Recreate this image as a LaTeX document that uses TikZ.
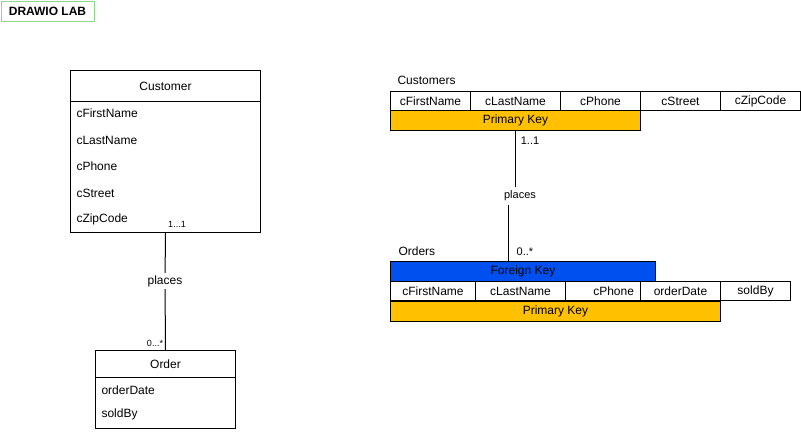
\documentclass[tikz,border=0pt]{standalone}
\usepackage{fontspec}
\setmainfont{Liberation Sans}
\usepackage{xcolor}
\usetikzlibrary{positioning}

\definecolor{labgreen}{HTML}{8ED68E}
\definecolor{pkyellow}{HTML}{FFC000}
\definecolor{fkblue}{HTML}{0050EF}

\tikzset{
  box/.style={draw, rectangle, inner sep=0pt, anchor=north west},
  cell/.style={box, minimum height=19pt},
  attr/.style={anchor=west, inner sep=0pt},
  card/.style={inner sep=0pt, font=\fontsize{9}{10}\selectfont},
  rel/.style={fill=white, inner sep=2pt},
}

\begin{document}
\begin{tikzpicture}[x=1pt, y=-1pt, line width=1pt,
    every node/.style={font=\fontsize{12}{14}\selectfont}]
    \useasboundingbox (0,0) rectangle (801,432);

    % Title
    \node[box, draw=labgreen, minimum width=93pt, minimum height=20pt,
          font=\fontsize{12}{14}\selectfont\bfseries] (lab) at (0.5,0.5) {DRAWIO LAB};

    % Class diagram: Customer
    \node[box, minimum width=190pt, minimum height=31pt] (customer) at (70,70) {Customer};
    \node[box, minimum width=190pt, minimum height=131pt] (custbody) at (70,101) {};
    \node[attr] (cfirst) at (76,113) {cFirstName};
    \node[attr] (clast)  at (76,140) {cLastName};
    \node[attr] (cphone) at (76,166) {cPhone};
    \node[attr] (cstreet) at (76,193) {cStreet};
    \node[attr] (czip)   at (76,219) {cZipCode};

    % Class diagram: Order
    \node[box, minimum width=140pt, minimum height=27pt] (order) at (95,350) {Order};
    \node[box, minimum width=140pt, minimum height=51pt] (orderbody) at (95,377) {};
    \node[attr] (odate) at (101,390) {orderDate};
    \node[attr] (osold) at (101,414) {soldBy};

    % Association
    \node[rel] (places1) at (165,281) {places};
    \node[card] (one1) at (177,224) {1...1};
    \node[card] (many1) at (155,343) {0...*};
    \draw (custbody.south) -- (places1);
    \draw (places1) -- (order.north);

    % Table: Customers
    \node[anchor=west, inner sep=0pt] (custtitle) at (397,80) {Customers};
    \node[cell, minimum width=80pt] (c1) at (390,91) {cFirstName};
    \node[cell, minimum width=90pt] (c2) at (470,91) {cLastName};
    \node[cell, minimum width=80pt] (c3) at (560,91) {cPhone};
    \node[cell, minimum width=80pt] (c4) at (640,91) {cStreet};
    \node[cell, minimum width=80pt] (c5) at (720,91) {cZipCode};
    \node[cell, fill=pkyellow, minimum width=250pt, minimum height=20pt] (pk1) at (390,110) {Primary Key};

    % Table: Orders
    \node[anchor=west, inner sep=0pt] (ordtitle) at (398,251) {Orders};
    \node[cell, fill=fkblue, minimum width=265pt, minimum height=20pt] (fk) at (390,261) {Foreign Key};
    \node[cell, minimum width=85pt] (o1) at (390,281) {cFirstName};
    \node[cell, minimum width=90pt] (o2) at (475,281) {cLastName};
    \node[cell, minimum width=75pt, text width=62pt, align=right] (o3) at (565,281) {cPhone};
    \node[cell, minimum width=80pt] (o4) at (640,281) {orderDate};
    \node[cell, minimum width=70pt] (o5) at (720,281) {soldBy};
    \node[cell, fill=pkyellow, minimum width=330pt, minimum height=20pt] (pk2) at (390,301) {Primary Key};

    % Relationship between tables
    \node[inner sep=3pt, font=\fontsize{11}{13}\selectfont] (places2) at (520,196) {places};
    \node[inner sep=0pt, font=\fontsize{11}{13}\selectfont] (one2) at (530,141) {1..1};
    \node[inner sep=0pt, font=\fontsize{11}{13}\selectfont] (many2) at (525,252) {0..*};
    \coordinate (fkin) at (508,261);
    \draw (pk1.south) -- (pk1.south |- places2.north);
    \draw (fkin |- places2.south) -- (fkin);
\end{tikzpicture}
\end{document}
